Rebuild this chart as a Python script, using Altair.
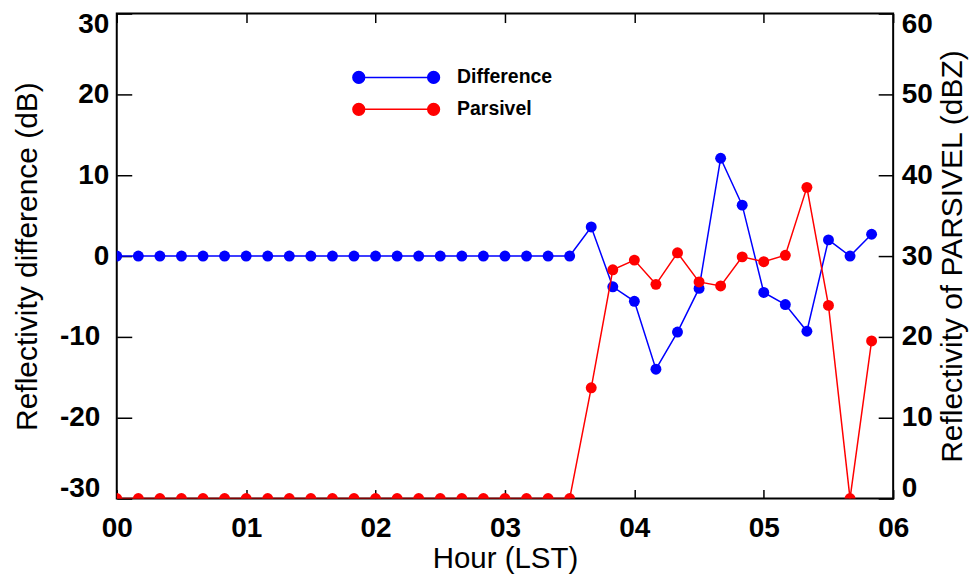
import altair as alt
import pandas as pd

# ---------------- data ----------------
times = [
    "00:00", "00:10", "00:20", "00:30", "00:40", "00:50",
    "01:00", "01:10", "01:20", "01:30", "01:40", "01:50",
    "02:00", "02:10", "02:20", "02:30", "02:40", "02:50",
    "03:00", "03:10", "03:20", "03:30", "03:40", "03:50",
    "04:00", "04:10", "04:20", "04:30", "04:40", "04:50",
    "05:00", "05:10", "05:20", "05:30", "05:40", "05:50",
]
difference = [
    0, 0, 0, 0, 0, 0,
    0, 0, 0, 0, 0, 0,
    0, 0, 0, 0, 0, 0,
    0, 0, 0, 0, 3.6, -3.8,
    -5.6, -14.0, -9.4, -4.0, 12.1, 6.3,
    -4.5, -6.0, -9.3, 2.0, 0.0, 2.7,
]
parsivel = [
    0, 0, 0, 0, 0, 0,
    0, 0, 0, 0, 0, 0,
    0, 0, 0, 0, 0, 0,
    0, 0, 0, 0, 13.7, 28.3,
    29.5, 26.5, 30.4, 26.8, 26.3, 29.9,
    29.3, 30.1, 38.5, 23.9, 0.0, 19.5,
]
series_names = ["Difference", "Parsivel"]
series_colors = ["#0000ff", "#ff0000"]
x_ticks = [0, 1, 2, 3, 4, 5, 6]
left_ticks = [-30, -20, -10, 0, 10, 20, 30]
right_ticks = [0, 10, 20, 30, 40, 50, 60]

hours = [int(t[:2]) + int(t[3:]) / 60 for t in times]
diff_df = pd.DataFrame({"hour": hours, "value": difference, "series": series_names[0]})
pars_df = pd.DataFrame({"hour": hours, "value": parsivel, "series": series_names[1]})

# ---------------- styling ----------------
W, H = 778, 486
FONT = "Liberation Sans"
LABEL_SIZE = 28
YTITLE_SIZE = 30
XTITLE_SIZE = 29.5

xscale = alt.Scale(domain=[0, 6], nice=False, zero=False)
lscale = alt.Scale(domain=[-30, 30], nice=False, zero=False)
rscale = alt.Scale(domain=[0, 60], nice=False, zero=False)
cscale = alt.Scale(domain=series_names, range=series_colors)

# legend sample: a line with a dot at each end (unit coordinates)
LEGEND_PATH = (
    "M-0.86,0L0.86,0"
    "M-0.725,0A0.135,0.135 0 1,1 -0.995,0A0.135,0.135 0 1,1 -0.725,0Z"
    "M0.995,0A0.135,0.135 0 1,1 0.725,0A0.135,0.135 0 1,1 0.995,0Z"
)
legend = alt.Legend(
    title=None, orient="none", legendX=235.5, legendY=49,
    symbolType=LEGEND_PATH, symbolSize=7604, symbolStrokeWidth=1.5,
    clipHeight=30, rowPadding=2, labelOffset=16.5, padding=0,
    labelFont=FONT, labelFontSize=19.5, labelFontWeight="bold", labelColor="black",
)


def tick_axis(orient, offset, values, size):
    return alt.Axis(
        orient=orient, offset=offset, values=values, labels=False, title=None,
        domain=False, grid=False, ticks=True, tickSize=size, tickWidth=1.5,
        tickColor="black",
    )


x_main = alt.Axis(
    orient="bottom", values=x_ticks, labelExpr="'0' + datum.value",
    labelFont=FONT, labelFontSize=LABEL_SIZE, labelFontWeight="bold",
    labelColor="black", labelPadding=16, labelFlush=False, labelOverlap=False,
    ticks=False, domain=False, grid=False,
    title="Hour (LST)", titleFont=FONT, titleFontSize=XTITLE_SIZE,
    titleFontWeight="normal", titleColor="black", titlePadding=2,
)
y_left_main = alt.Axis(
    orient="left", values=left_ticks,
    labelExpr="datum.value < 0 ? '-' + abs(datum.value) : '' + datum.value",
    labelFont=FONT, labelFontSize=LABEL_SIZE, labelFontWeight="bold",
    labelColor="black",
    labelPadding={"condition": {"test": "datum.value < 0", "value": 17}, "value": 8},
    labelFlush=True, labelFlushOffset=3.5, labelOverlap=False,
    ticks=False, domain=False, grid=False,
    title="Reflectivity difference (dB)", titleFont=FONT, titleFontSize=YTITLE_SIZE,
    titleFontWeight="normal", titleColor="black", titlePadding=17,
)
y_right_main = alt.Axis(
    orient="right", values=right_ticks, labelExpr="'' + datum.value",
    labelFont=FONT, labelFontSize=LABEL_SIZE, labelFontWeight="bold",
    labelColor="black", labelPadding=8, labelFlush=True, labelFlushOffset=3.5,
    labelOverlap=False,
    ticks=False, domain=False, grid=False,
    title="Reflectivity of PARSIVEL (dBZ)", titleFont=FONT, titleFontSize=YTITLE_SIZE,
    titleFontWeight="normal", titleColor="black", titlePadding=5,
    titleAngle=270, titleBaseline="top",
)

diff_line = alt.Chart(diff_df).mark_line(strokeWidth=1.5, clip=True).encode(
    x=alt.X("hour:Q", scale=xscale, axis=x_main),
    y=alt.Y("value:Q", scale=lscale, axis=y_left_main),
    stroke=alt.Stroke("series:N", scale=cscale, legend=legend),
)
diff_pts = alt.Chart(diff_df).mark_circle(size=120, opacity=1, clip=True).encode(
    x=alt.X("hour:Q", scale=xscale, axis=tick_axis("top", -H, x_ticks, 9)),
    y=alt.Y("value:Q", scale=lscale, axis=tick_axis("right", -W, left_ticks, 15)),
    fill=alt.Fill("series:N", scale=cscale, legend=legend),
)
pars_line = alt.Chart(pars_df).mark_line(strokeWidth=1.5, clip=True).encode(
    x=alt.X("hour:Q", scale=xscale, axis=tick_axis("bottom", -H, x_ticks, 9)),
    y=alt.Y("value:Q", scale=rscale, axis=y_right_main),
    stroke=alt.Stroke("series:N", scale=cscale, legend=legend),
)
pars_pts = alt.Chart(pars_df).mark_circle(size=120, opacity=1, clip=True).encode(
    x=alt.X("hour:Q", scale=xscale, axis=None),
    y=alt.Y("value:Q", scale=rscale, axis=tick_axis("left", -W, right_ticks, 15)),
    fill=alt.Fill("series:N", scale=cscale, legend=legend),
)

chart = (
    alt.layer(diff_line, diff_pts, pars_line, pars_pts)
    .resolve_scale(y="independent")
    .resolve_axis(x="independent", y="independent")
    .properties(width=W, height=H, padding={"left": 12, "top": 9, "right": 5, "bottom": 5},
                background="white")
    .configure(font=FONT)
    .configure_view(stroke="black", strokeWidth=2)
)

chart.save("out.html", embed_options={"renderer": "svg", "actions": False})
